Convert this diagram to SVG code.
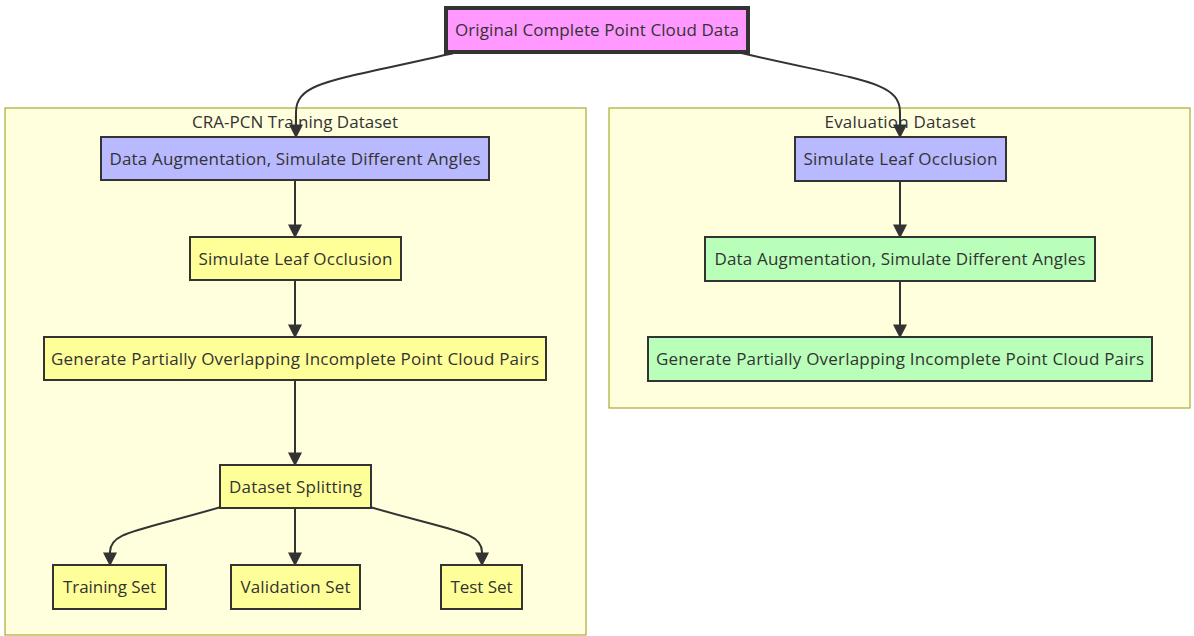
<svg xmlns="http://www.w3.org/2000/svg" width="1194" height="636" viewBox="0 0 1194 636">
<defs>
<marker id="arr" markerUnits="userSpaceOnUse" markerWidth="14" markerHeight="14" viewBox="0 0 10 10" refX="9" refY="5" orient="auto">
<path d="M0,0 L10,5 L0,10 z" fill="#333"/>
</marker>
<style>
.cl{fill:#ffffde;stroke:#aaaa33;stroke-width:1.2}
.n rect{stroke:#333;stroke-width:2}
.pink{fill:#ff99ff}
.blue{fill:#b9b9ff}
.yel{fill:#ffff99}
.grn{fill:#b9ffb9}
text{font-family:"Open Sans","Liberation Sans",sans-serif;font-size:17px;fill:#333;text-anchor:middle}
.e path{fill:none;stroke:#333;stroke-width:2;marker-end:url(#arr)}
</style>
</defs>
<rect width="1194" height="636" fill="#ffffff"/>
<g id="cluster-train">
<rect class="cl" x="5" y="108" width="581" height="527"/>
<text x="295" y="128" textLength="206" lengthAdjust="spacing">CRA-PCN Training Dataset</text>
</g>
<g id="cluster-eval">
<rect class="cl" x="609" y="108" width="581" height="300"/>
<text x="900" y="128" textLength="151" lengthAdjust="spacing">Evaluation Dataset</text>
</g>
<g class="e" id="connectors">
<path d="M458,52 C340,80 296,80 296,112 L296,137"/>
<path d="M737,52 C855,80 900,80 900,112 L900,137"/>
<path d="M295,180 L295,237"/>
<path d="M295,280 L295,337"/>
<path d="M295,380 L295,465"/>
<path d="M221,507 C135,532 110,532 110,552 L110,565"/>
<path d="M295,508 L295,565"/>
<path d="M370,507 C456,532 482,532 482,552 L482,565"/>
<path d="M900,181 L900,237"/>
<path d="M900,281 L900,337"/>
</g>
<g class="n" id="top">
<rect class="pink" x="446" y="8" width="302" height="44" style="stroke-width:4"/>
<text x="597" y="36" textLength="284" lengthAdjust="spacing">Original Complete Point Cloud Data</text>
</g>
<g class="n" id="l1">
<rect class="blue" x="101" y="137" width="388" height="43"/>
<text x="295" y="164.5" textLength="371" lengthAdjust="spacing">Data Augmentation, Simulate Different Angles</text>
</g>
<g class="n" id="l2">
<rect class="yel" x="190" y="237" width="211" height="43"/>
<text x="295.5" y="264.5" textLength="194" lengthAdjust="spacing">Simulate Leaf Occlusion</text>
</g>
<g class="n" id="l3">
<rect class="yel" x="44" y="337" width="502" height="43"/>
<text x="295" y="364.5" textLength="488" lengthAdjust="spacing">Generate Partially Overlapping Incomplete Point Cloud Pairs</text>
</g>
<g class="n" id="l4">
<rect class="yel" x="220" y="465" width="151" height="43"/>
<text x="295.5" y="492.5" textLength="133" lengthAdjust="spacing">Dataset Splitting</text>
</g>
<g class="n" id="l5">
<rect class="yel" x="53" y="565" width="113" height="44"/>
<text x="109.5" y="593" textLength="93" lengthAdjust="spacing">Training Set</text>
</g>
<g class="n" id="l6">
<rect class="yel" x="231" y="565" width="129" height="44"/>
<text x="295.5" y="593" textLength="110" lengthAdjust="spacing">Validation Set</text>
</g>
<g class="n" id="l7">
<rect class="yel" x="441" y="565" width="81" height="44"/>
<text x="481.5" y="593" textLength="62" lengthAdjust="spacing">Test Set</text>
</g>
<g class="n" id="r1">
<rect class="blue" x="795" y="137" width="211" height="44"/>
<text x="900.5" y="165" textLength="194" lengthAdjust="spacing">Simulate Leaf Occlusion</text>
</g>
<g class="n" id="r2">
<rect class="grn" x="705" y="237" width="390" height="44"/>
<text x="900" y="265" textLength="371" lengthAdjust="spacing">Data Augmentation, Simulate Different Angles</text>
</g>
<g class="n" id="r3">
<rect class="grn" x="648" y="337" width="504" height="44"/>
<text x="900" y="365" textLength="488" lengthAdjust="spacing">Generate Partially Overlapping Incomplete Point Cloud Pairs</text>
</g>
</svg>
